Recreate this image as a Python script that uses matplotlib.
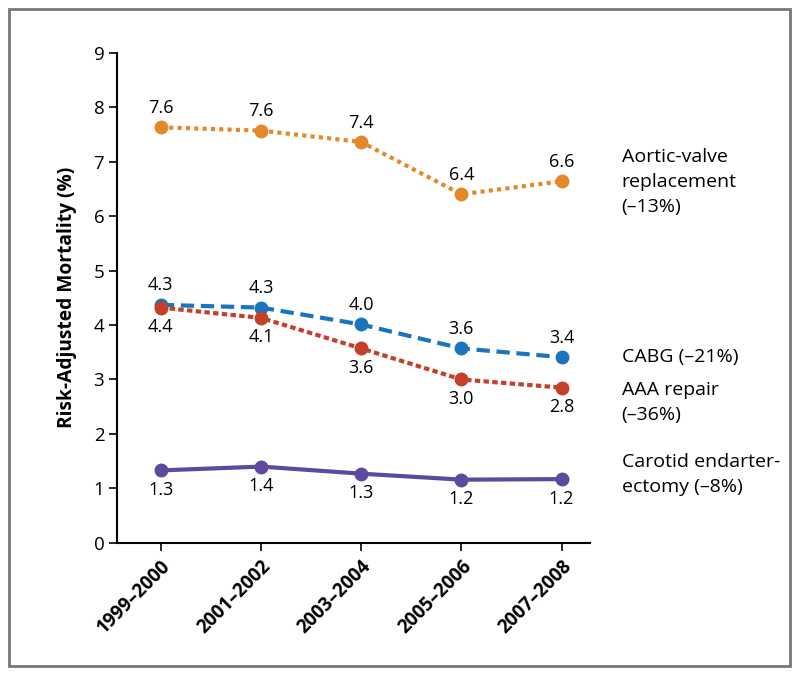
import matplotlib.pyplot as plt
from matplotlib.patches import Rectangle

plt.rcParams['font.family'] = ['Open Sans', 'DejaVu Sans']

periods = ['1999\u20132000', '2001\u20132002', '2003\u20132004', '2005\u20132006', '2007\u20132008']

aortic = [7.63, 7.57, 7.36, 6.40, 6.64]
cabg = [4.37, 4.32, 4.01, 3.57, 3.41]
aaa = [4.32, 4.13, 3.57, 3.00, 2.85]
carotid = [1.33, 1.40, 1.27, 1.16, 1.17]

aortic_lbl = ['7.6', '7.6', '7.4', '6.4', '6.6']
cabg_lbl = ['4.3', '4.3', '4.0', '3.6', '3.4']
aaa_lbl = ['4.4', '4.1', '3.6', '3.0', '2.8']
carotid_lbl = ['1.3', '1.4', '1.3', '1.2', '1.2']

series = [
    # values, labels, colour, dashes, label side, right text, right text y
    (aortic, aortic_lbl, '#E3892C', (1.0, 1.0), 1, 'Aortic-valve\nreplacement\n(\u201313%)', 6.62),
    (cabg, cabg_lbl, '#1C75BC', (3.2, 1.6), 1, 'CABG (\u201321%)', 3.42),
    (aaa, aaa_lbl, '#C5402B', (1.3, 0.8), -1, 'AAA repair\n(\u201336%)', 2.58),
    (carotid, carotid_lbl, '#5E4A9C', None, -1, 'Carotid endarter-\nectomy (\u20138%)', 1.25),
]

fig = plt.figure(figsize=(8, 6.76), dpi=100)
ax = fig.add_axes([0.146, 0.197, 0.591, 0.725])

fig.patches.append(Rectangle((0.011, 0.015), 0.977, 0.971, transform=fig.transFigure,
                             fill=False, edgecolor='#777777', linewidth=2))

x = list(range(len(periods)))
for vals, lbls, col, dash, side, name, ny in series:
    if dash is None:
        ax.plot(x, vals, color=col, lw=3, marker='o', ms=9, solid_capstyle='butt')
    else:
        ax.plot(x, vals, color=col, lw=3, marker='o', ms=9, dashes=dash)
    for xi, v, t in zip(x, vals, lbls):
        ax.annotate(t, (xi, v), xytext=(0, 14 * side), textcoords='offset points',
                    ha='center', va='center', fontsize=13)
    ax.text(4.6, ny, name, ha='left', va='center', fontsize=14, linespacing=1.5,
            clip_on=False)

ax.set_xlim(-0.44, 4.28)
ax.set_ylim(0, 9)
ax.set_yticks(range(10))
ax.set_xticks(x)
ax.set_xticklabels(periods, rotation=45, ha='right', rotation_mode='anchor',
                   fontsize=13.5, fontweight='bold')
ax.tick_params(axis='y', labelsize=13.5, length=6, width=1.2, pad=3)
ax.tick_params(axis='x', length=6, width=1.2)
ax.set_ylabel('Risk-Adjusted Mortality (%)', fontsize=13.8, fontweight='bold', labelpad=12)

ax.spines['top'].set_visible(False)
ax.spines['right'].set_visible(False)
ax.spines['left'].set_linewidth(1.5)
ax.spines['bottom'].set_linewidth(1.5)

fig.savefig('out.png', dpi=100)
